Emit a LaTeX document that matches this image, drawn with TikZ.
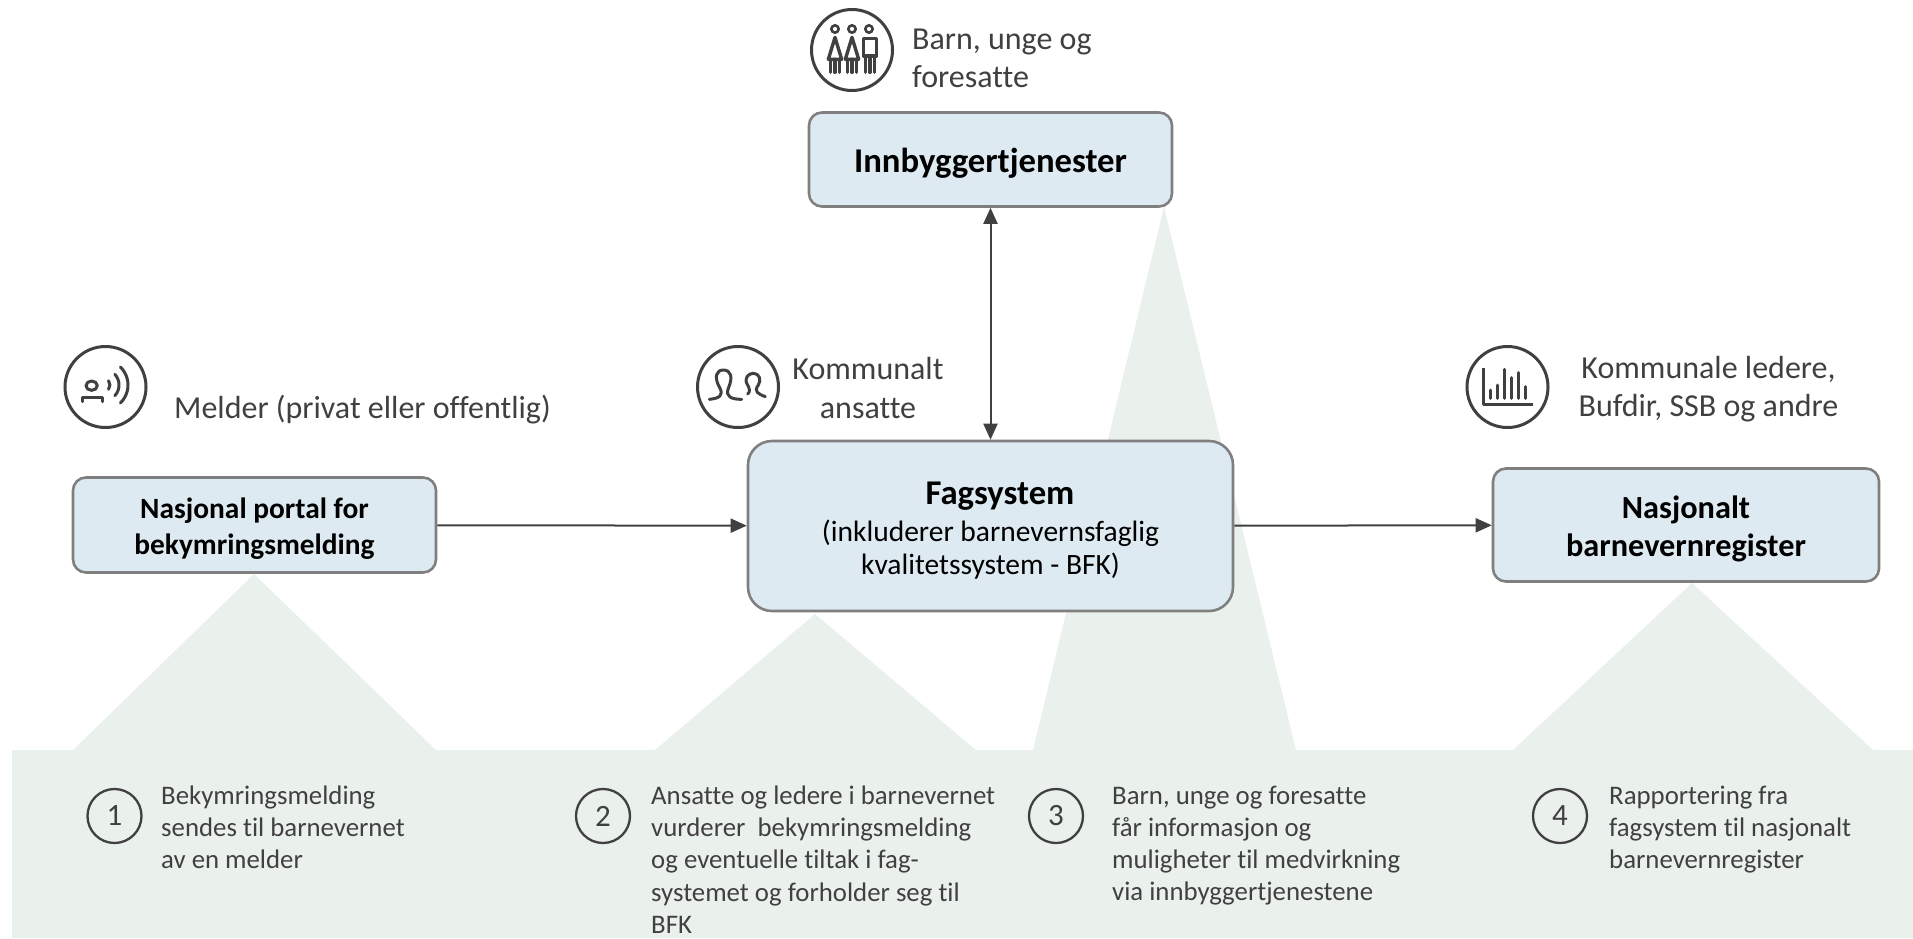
\documentclass[tikz,border=0pt]{standalone}
\usepackage{fontspec}
\setmainfont{Carlito}[Ligatures=CommonOff]
\usetikzlibrary{arrows.meta}
\definecolor{bandc}{HTML}{EAF0EC}
\definecolor{boxc}{HTML}{DEEAF1}
\definecolor{edgec}{HTML}{7F7F7F}
\definecolor{inkc}{HTML}{404040}
\newcommand{\fs}[1]{\fontsize{#1}{#1}\selectfont}
\newcommand{\topgap}[1]{\rule{0pt}{#1pt}}
\tikzset{
  x=1pt,y=-1pt,
  boxn/.style={draw=edgec,line width=2.6pt,fill=boxc,align=center,inner sep=0pt,text=black},
  icon/.style={circle,draw=inkc,line width=3pt,minimum size=81pt,inner sep=0pt},
  numc/.style={circle,draw=inkc,line width=2.3pt,minimum size=54pt,inner sep=0pt,text=inkc,font=\fs{31}},
  lab/.style={text=inkc,font=\fs{32},inner sep=0pt,align=left},
  stepn/.style={text=inkc,font=\fs{26.8},inner sep=0pt,align=left,anchor=north west},
  conn/.style={draw=inkc,line width=2pt,-{Triangle[length=16pt,width=14pt]}},
  glyph/.style={draw=inkc,line width=3pt,line cap=round,line join=round},
  figline/.style={glyph,line width=3.4pt},
  glyphin/.style={shift={#1},x=.3333pt,y=-.3333pt}
}
\begin{document}
\begin{tikzpicture}
\useasboundingbox (0,0) rectangle (1913,938);
% background shapes
\fill[bandc] (12,750) rectangle (1913,938);
\fill[bandc] (73,750) -- (254,574) -- (436,750) -- cycle;
\fill[bandc] (655,750) -- (815,614) -- (976,750) -- cycle;
\fill[bandc] (1033,750) -- (1164,207) -- (1296,750) -- cycle;
\fill[bandc] (1513,750) -- (1692,583) -- (1873,750) -- cycle;
% boxes
\node[boxn,rounded corners=13pt,minimum width=363pt,minimum height=94pt,font=\bfseries\fs{34.7}] (inn) at (990.5,159.5) {\topgap{32.5}Innbyggertjenester};
\node[boxn,rounded corners=24pt,minimum width=485pt,minimum height=170pt] (fag) at (990.5,526) {{\bfseries\fs{34.7}\topgap{32}\hspace*{19pt}Fagsystem}\\[8.2pt]{\fs{29.5}(inkluderer barnevernsfaglig}\\[6.2pt]{\fs{29.5}kvalitetssystem - BFK)}};
\node[boxn,rounded corners=13pt,minimum width=363pt,minimum height=95pt,font=\bfseries\fs{29.4}] (portal) at (254.5,525) {\topgap{28}Nasjonal portal for\\[6.5pt]bekymringsmelding};
\node[boxn,rounded corners=13pt,minimum width=386pt,minimum height=113pt,font=\bfseries\fs{32.3}] (reg) at (1686,525) {\topgap{30}Nasjonalt\\[6pt]barnevernregister};
% connectors
\draw[conn] (portal) -- (fag);
\draw[conn] (fag) -- (reg);
\draw[conn,{Triangle[length=16pt,width=14pt]}-{Triangle[length=16pt,width=14pt]}] (inn) -- (fag);
% icons
\node[icon] (ictop) at (852,50) {};
\node[icon] (icmeld) at (105.5,387) {};
\node[icon] (icans) at (738,387) {};
\node[icon] (icstat) at (1507.5,387) {};
% three people
\begin{scope}[glyphin={(780,0)}]
  \draw[glyph,line width=2.6pt] (165,87) circle[radius=11];
  \draw[glyph,line width=2.6pt] (216,87) circle[radius=11];
  \draw[glyph,line width=2.6pt] (267,87) circle[radius=11];
  \draw[figline] (165,112) -- (145,178) -- (185,178) -- cycle;
  \draw[figline] (152,178) -- (152,217) (178,178) -- (178,217) (165,178) -- (165,217);
  \draw[figline] (216,112) -- (196,178) -- (236,178) -- cycle;
  \draw[figline] (203,178) -- (203,217) (229,178) -- (229,217) (216,178) -- (216,217);
  \draw[figline] (250,116) rectangle (290,168);
  \draw[figline] (256,168) -- (256,217) (270,168) -- (270,217) (284,168) -- (284,217);
\end{scope}
% reporter
\begin{scope}[glyphin={(40,330)}]
  \draw[glyph] (155,167) ellipse[x radius=17,y radius=14];
  \draw[glyph] (127,215) -- (127,202) -- (188,202) -- (188,215);
\end{scope}
\draw[glyph] (103,385) ++(-38:7) arc[start angle=-38,end angle=38,radius=7];
\draw[glyph] (103,385) ++(-42:16) arc[start angle=-42,end angle=42,radius=16];
\draw[glyph] (103,385) ++(-46:25) arc[start angle=-46,end angle=46,radius=25];
% employees
\begin{scope}[glyphin={(680,330)}]
  \draw[glyph] (88,208) .. controls (120,205) and (130,195) .. (120,175) .. controls (100,140) and (110,120) .. (130,120) .. controls (152,120) and (160,140) .. (145,175) .. controls (135,200) and (155,208) .. (185,208);
  \draw[glyph] (203,192) .. controls (212,185) and (208,175) .. (203,165) .. controls (190,145) and (205,130) .. (220,130) .. controls (238,130) and (245,150) .. (235,165) .. controls (220,185) and (235,192) .. (256,200);
\end{scope}
% statistics
\begin{scope}[glyphin={(1450,330)}]
  \draw[glyph,line cap=butt] (100,115) -- (100,222) -- (250,222);
  \foreach \bx/\by in {120/180,141/165,162/118,183/143,204/128,226/170}
    \draw[glyph] (\bx,205) -- (\bx,\by);
\end{scope}
% labels
\node[lab,anchor=north west] (l1) at (912,29) {Barn, unge og\\[6pt]foresatte};
\node[lab,anchor=west] (l2) at (174,410) {Melder (privat eller offentlig)};
\node[lab,anchor=center,align=center] (l3) at (868,387.5) {Kommunalt\\[7pt]ansatte};
\node[lab,anchor=center,align=center] (l4) at (1708.5,389) {Kommunale ledere,\\[6.5pt]Bufdir, SSB og andre};
% steps
\node[numc] (n1) at (114.5,816) {1};
\node[numc] (n2) at (603,816) {2};
\node[numc] (n3) at (1056,816) {3};
\node[numc] (n4) at (1560,816) {4};
\node[stepn] (s1) at (161,785.5) {Bekymringsmelding\\[5.5pt]sendes til barnevernet\\[5.5pt]av en melder};
\node[stepn] (s2) at (651,785.5) {Ansatte og ledere i barnevernet\\[5.5pt]vurderer\ \ bekymringsmelding\\[5.5pt]og eventuelle tiltak i fag-\\[5.5pt]systemet og forholder seg til\\[5.5pt]BFK};
\node[stepn] (s3) at (1112,785.5) {Barn, unge og foresatte\\[5.5pt]får informasjon og\\[5.5pt]muligheter til medvirkning\\[5.5pt]via innbyggertjenestene};
\node[stepn] (s4) at (1609,785.5) {Rapportering fra\\[5.5pt]fagsystem til nasjonalt\\[5.5pt]barnevernregister};
\end{tikzpicture}
\end{document}
